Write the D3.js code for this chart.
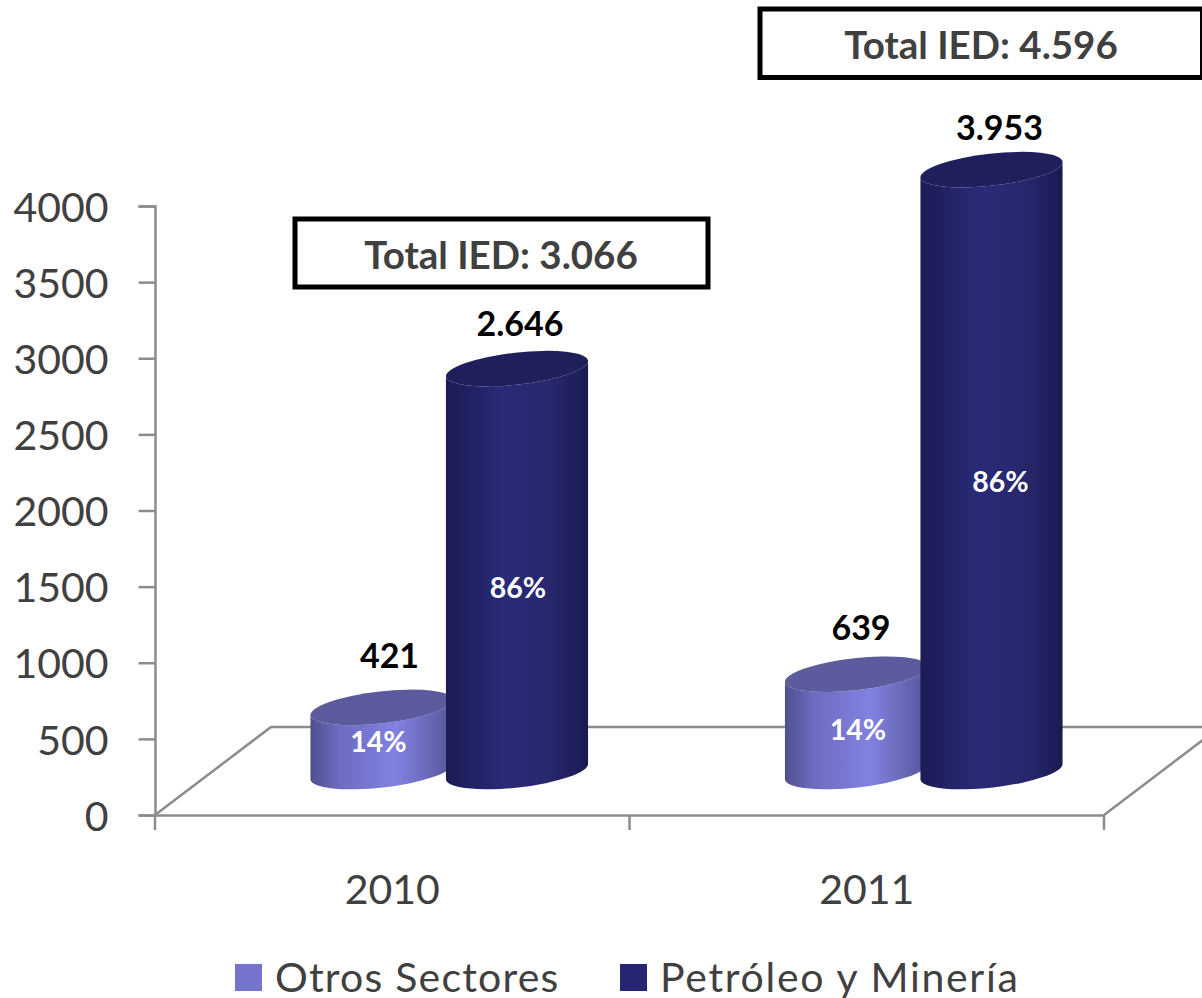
<!DOCTYPE html>
<html>
<head>
<meta charset="utf-8">
<script src="https://cdn.jsdelivr.net/npm/d3@7"></script>
<style>
    body { margin: 0; background: #fff; }
    svg { display: block; }
    text { font-family: Lato, "Open Sans", sans-serif; }
</style>
</head>
<body>
<div id="chart"></div>
<script>
/* IED por sector, 2010 y 2011: cilindros 3D falsos */

const years = ["2010", "2011"];
const series = ["Otros Sectores", "Petróleo y Minería"];
const otros = [421, 639];
const petroleo = [2646, 3953];
const valueLabels = [["421", "639"], ["2.646", "3.953"]];
const pctLabels = [["14%", "14%"], ["86%", "86%"]];
const totals = ["Total IED: 3.066", "Total IED: 4.596"];
const yTicks = [0, 500, 1000, 1500, 2000, 2500, 3000, 3500, 4000];

const width = 1202,
      height = 998,
      margin = { top: 206, left: 155, right: 98, bottom: 183 },
      floorDepth = { x: 116, y: 88 }, // back wall offset of the floor
      rx = 71.5, ry = 16, tilt = -6.4; // ellipse of the cylinder caps

const svg = d3.select("#chart")
    .append("svg")
    .attr("width", width)
    .attr("height", height)
    .attr("viewBox", [0, 0, width, height]);

/* Scales */
let x = d3.scaleBand()
    .domain(years)
    .range([margin.left, width - margin.right]);

let xSeries = d3.scalePoint() // offset of each cylinder inside its band
    .domain(series)
    .range([226.5, 362]);

let y = d3.scaleLinear()
    .domain([0, 4000])
    .range([height - margin.bottom, margin.top]);

const baseY = y(0) - 43.5; // cylinders stand in the middle of the floor

/* Gradients */
const defs = svg.append("defs");
function addGradient(id, stops) {
    defs.append("linearGradient")
        .attr("id", id)
        .selectAll("stop")
        .data(stops)
        .join("stop")
        .attr("offset", d => d[0])
        .attr("stop-color", d => d[1]);
}
addGradient("gradOtros", [[0, "#4f4f8f"], [0.2, "#6c6cc0"], [0.6, "#8181e2"], [0.8, "#6c6cbe"], [1, "#55559a"]]);
addGradient("gradPetroleo", [[0, "#1b1b54"], [0.2, "#222266"], [0.4, "#2a2a78"], [0.7, "#28286f"], [0.9, "#1f1f5e"], [1, "#1a1a50"]]);

/* Floor */
const axisColor = "#8c8c8c";
const floor = svg.append("g")
    .attr("fill", "none")
    .attr("stroke", axisColor)
    .attr("stroke-width", 2.5);
const x0 = margin.left, x1 = width - margin.right;
floor.append("path")
    .attr("d", d3.line()([[x0, y(0)], [x0 + floorDepth.x, y(0) - floorDepth.y], [x1 + floorDepth.x, y(0) - floorDepth.y]]));
floor.append("path")
    .attr("d", d3.line()([[x1, y(0)], [x1 + floorDepth.x, y(0) - floorDepth.y]]));

/* Axes */
const yAxis = svg.append("g")
    .attr("transform", `translate(${margin.left},0)`)
    .call(d3.axisLeft(y).tickValues(yTicks).tickSize(16.5).tickPadding(30).tickFormat(d3.format("d")));
yAxis.selectAll("text").style("font-size", "41px").attr("fill", "#404040").attr("dy", "0.37em");

const xAxis = svg.append("g")
    .attr("transform", `translate(0,${y(0)})`)
    .call(d3.axisBottom(x).tickSize(0).tickPadding(60));
xAxis.selectAll("text").style("font-size", "41px").attr("fill", "#404040");

// ticks sit on the band edges
xAxis.selectAll(".edge")
    .data([...years.map(d => x(d)), x1])
    .join("line")
    .attr("class", "edge")
    .attr("x1", d => d).attr("x2", d => d)
    .attr("y1", 0).attr("y2", 15);

svg.selectAll(".domain, .tick line, .edge")
    .attr("stroke", axisColor)
    .attr("stroke-width", 2.5);

/* Cylinders */
const rows = [];
years.forEach((yr, i) => {
    rows.push({ year: yr, s: series[0], v: otros[i], grad: "gradOtros", cap: "#5b5b9e", i, j: 0 });
    rows.push({ year: yr, s: series[1], v: petroleo[i], grad: "gradPetroleo", cap: "#1f1f5c", i, j: 1 });
});

const dropX = rx * Math.cos(tilt * Math.PI / 180),
      dropY = rx * Math.sin(tilt * Math.PI / 180);
const cx = d => x(d.year) + xSeries(d.s);
const topY = d => baseY - (y(0) - y(d.v));

function bodyPath(d) {
    const c = cx(d), t = topY(d);
    return `M${c - dropX},${t - dropY} L${c - dropX},${baseY - dropY}`
        + ` A${rx},${ry} ${tilt} 0 0 ${c + dropX},${baseY + dropY}`
        + ` L${c + dropX},${t + dropY}`
        + ` A${rx},${ry} ${tilt} 0 1 ${c - dropX},${t - dropY} Z`;
}

let bar = svg.selectAll(".bar")
    .data(rows)
    .join("g")
    .attr("class", "bar");

bar.append("path")
    .attr("d", bodyPath)
    .attr("fill", d => `url(#${d.grad})`);

bar.append("ellipse")
    .attr("rx", rx)
    .attr("ry", ry)
    .attr("transform", d => `translate(${cx(d)},${topY(d)}) rotate(${tilt})`)
    .attr("fill", d => d.cap);

/* Labels, nudged one by one like in the original */
const valueNudge = [[[8, -39], [5, -34]], [[3, -33], [8, -30]]];
const pctNudge = [[[-3, 13], [2, 17]], [[1, 28], [9, 21]]];

bar.append("text")
    .text(d => valueLabels[d.j][d.i])
    .attr("x", d => cx(d) + valueNudge[d.j][d.i][0])
    .attr("y", d => topY(d) + valueNudge[d.j][d.i][1])
    .attr("text-anchor", "middle")
    .attr("font-weight", "bold")
    .style("font-size", "34px")
    .attr("fill", "#000");

bar.append("text")
    .text(d => pctLabels[d.j][d.i])
    .attr("x", d => cx(d) + pctNudge[d.j][d.i][0])
    .attr("y", d => (topY(d) + baseY) / 2 + pctNudge[d.j][d.i][1])
    .attr("text-anchor", "middle")
    .attr("font-weight", "bold")
    .style("font-size", "28.5px")
    .attr("fill", "#fff");

/* Total boxes */
const boxes = [{ x: 295, y: 219, w: 413, h: 68 }, { x: 760, y: 9, w: 442.5, h: 68.5 }];
const box = svg.selectAll(".total")
    .data(totals)
    .join("g")
    .attr("class", "total");

box.append("rect")
    .attr("x", (d, i) => boxes[i].x)
    .attr("y", (d, i) => boxes[i].y)
    .attr("width", (d, i) => boxes[i].w)
    .attr("height", (d, i) => boxes[i].h)
    .attr("fill", "#fff")
    .attr("stroke", "#000")
    .attr("stroke-width", 5);

box.append("text")
    .text(d => d)
    .attr("x", (d, i) => i ? 981 : 501)
    .attr("y", (d, i) => boxes[i].y + 50)
    .attr("text-anchor", "middle")
    .attr("font-weight", "bold")
    .style("font-size", "38.5px")
    .attr("fill", "#404040");

/* Legend */
const legendX = [235, 620];
const legendSpacing = [1.2, 1.7];
const legend = svg.selectAll(".legend")
    .data(series)
    .join("g")
    .attr("class", "legend")
    .attr("transform", (d, i) => `translate(${legendX[i]},964)`);

legend.append("rect")
    .attr("width", 27)
    .attr("height", 27)
    .attr("fill", (d, i) => i ? "#262673" : "#7575cf");

legend.append("text")
    .text(d => d)
    .attr("x", 40)
    .attr("y", 28)
    .style("font-size", "41px")
    .attr("letter-spacing", (d, i) => legendSpacing[i] + "px")
    .attr("fill", "#404040");
</script>
</body>
</html>
